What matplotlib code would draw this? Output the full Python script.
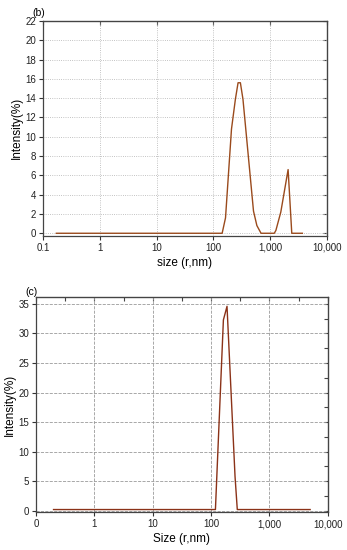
import numpy as np
import matplotlib
matplotlib.use("Agg")
import matplotlib.pyplot as plt
from matplotlib.ticker import FixedLocator, MultipleLocator, NullFormatter

plt.rcParams['font.family'] = ['Liberation Sans', 'DejaVu Sans']

# panel (b) size distribution
size_b = [0.17, 1, 10, 100, 143, 164, 209, 245, 273, 300, 333, 408, 511, 586, 694,
          1190, 1270, 1550, 2085, 2420, 3720]
int_b = [0, 0, 0, 0, 0, 1.6, 10.8, 13.9, 15.6, 15.6, 13.9, 8.4, 2.3, 0.8, 0,
         0, 0.3, 2.2, 6.6, 0, 0]

# panel (c) size distribution
size_c = [0.2, 1, 10, 100, 119, 163, 188, 258, 282, 1000, 5000]
int_c = [0.2, 0.2, 0.2, 0.2, 0.2, 32.3, 34.6, 5.8, 0.2, 0.2, 0.2]

decades = [0.1, 1, 10, 100, 1000, 10000]
labels_b = ['0.1', '1', '10', '100', '1,000', '10,000']
labels_c = ['0', '1', '10', '100', '1,000', '10,000']

fig = plt.figure(figsize=(3.47, 5.5), dpi=100)


def style(ax, xlabels, xlabel, ylim, ymajor, gridstyle, gridcolor):
    ax.set_xscale('log')
    ax.set_xlim(0.1, 10000)
    ax.set_ylim(*ylim)
    ax.xaxis.set_major_locator(FixedLocator(decades))
    ax.xaxis.set_minor_locator(FixedLocator([]))
    ax.set_xticklabels(xlabels)
    ax.yaxis.set_major_locator(MultipleLocator(ymajor))
    ax.tick_params(axis='both', direction='out', length=3, width=0.8,
                   labelsize=7, color='#333333', labelcolor='#222222', pad=2)
    ax.grid(True, which='major', linestyle=gridstyle, color=gridcolor, linewidth=0.6)
    ax.set_xlabel(xlabel, fontsize=8.5, labelpad=3)
    ax.set_ylabel('Intensity(%)', fontsize=8.5, labelpad=2)
    for s in ax.spines.values():
        s.set_linewidth(0.9)
        s.set_color('#444444')
    top = ax.secondary_xaxis('top')
    top.xaxis.set_major_locator(FixedLocator(decades))
    top.xaxis.set_minor_locator(FixedLocator([]))
    top.xaxis.set_major_formatter(NullFormatter())
    top.tick_params(direction='in', length=3, width=0.8, colors='#444444')
    right = ax.secondary_yaxis('right')
    right.yaxis.set_major_locator(MultipleLocator(ymajor))
    right.yaxis.set_major_formatter(NullFormatter())
    right.tick_params(direction='in', length=3, width=0.8, colors='#444444')
    return top, right


ax1 = fig.add_axes([0.1248, 0.5715, 0.8167, 0.3903])
ax1.plot(size_b, int_b, color='#9a4a1c', linewidth=1.0)
style(ax1, labels_b, 'size (r,nm)', (-0.25, 22), 2, ':', '#b0b0b0')
fig.text(0.092, 0.985, '(b)', fontsize=7.5, va='top', ha='left')

ax2 = fig.add_axes([0.1037, 0.0685, 0.8407, 0.3910])
ax2.plot(size_c, int_c, color='#8b3218', linewidth=1.0)
top2, right2 = style(ax2, labels_c, 'Size (r,nm)', (-0.27, 36.13), 5, '--', '#9a9a9a')
right2.yaxis.set_major_locator(MultipleLocator(2.5))
top2.xaxis.set_major_locator(FixedLocator(10 ** np.arange(-1, 4.01, 0.5)))
fig.text(0.072, 0.478, '(c)', fontsize=7.5, va='top', ha='left')

fig.savefig('out.png', dpi=100)
